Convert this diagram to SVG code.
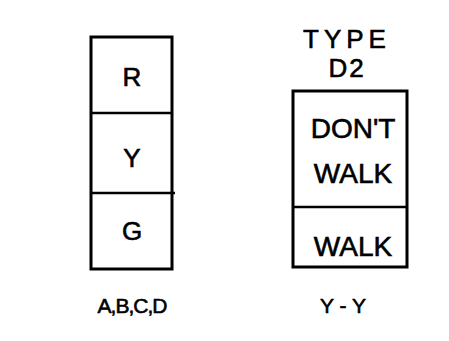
<svg xmlns="http://www.w3.org/2000/svg" width="449" height="341" viewBox="0 0 449 341">
<style>
.b{fill:none;stroke:#000;stroke-width:3}
.l{stroke:#000;stroke-width:2.5}
text{font-family:"Liberation Sans",Arial,sans-serif;fill:#000;text-anchor:middle;stroke:#000;stroke-width:0.6}
.t{font-size:26px}
.w{font-size:28px}
.s{font-size:21px}
</style>
<rect width="449" height="341" fill="#fff"/>
<g id="signal-abcd">
<rect class="b" x="91" y="37" width="81" height="232"/>
<line class="l" x1="91" y1="113" x2="172" y2="113"/>
<line class="l" x1="91" y1="193" x2="175" y2="193"/>
<text class="t" x="132" y="86">R</text>
<text class="t" x="132" y="167">Y</text>
<text class="t" x="132" y="240">G</text>
<text class="s" x="132" y="313" letter-spacing="-1">A,B,C,D</text>
</g>
<g id="signal-d2">
<text class="t" x="347" y="48" letter-spacing="5">TYPE</text>
<text class="t" x="347" y="77" letter-spacing="2">D2</text>
<rect class="b" x="293" y="91" width="114" height="176"/>
<line class="l" x1="293" y1="207" x2="407" y2="207"/>
<text class="w" x="353" y="138">DON'T</text>
<text class="w" x="353" y="183">WALK</text>
<text class="w" x="353" y="256">WALK</text>
<text class="s" x="343" y="313">Y - Y</text>
</g>
<g id="connectors"></g>
</svg>
